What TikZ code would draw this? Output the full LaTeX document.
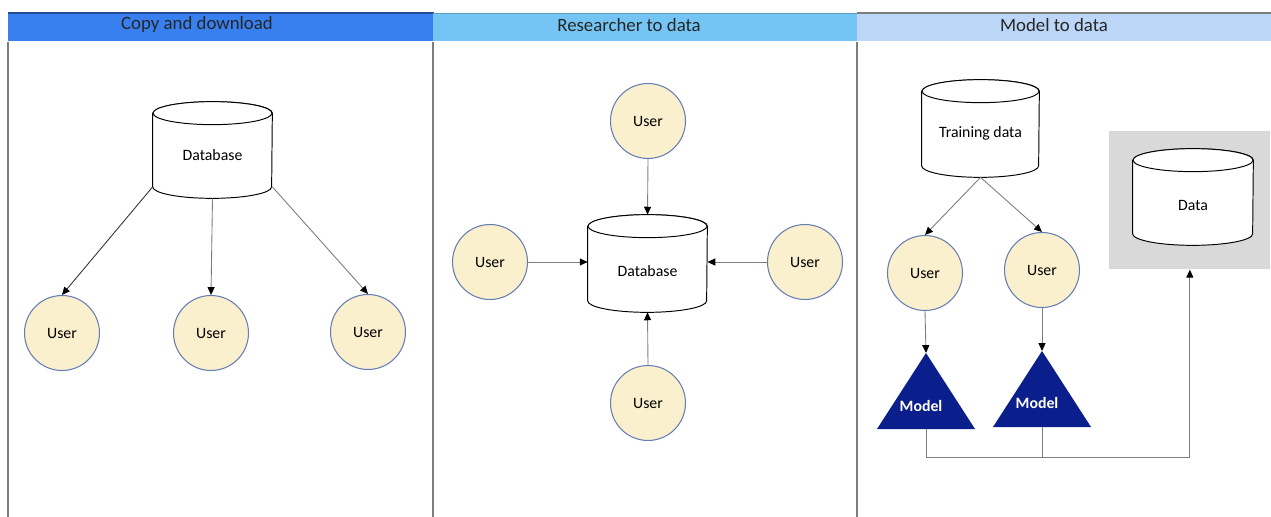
\documentclass[tikz,border=0pt]{standalone}
\usepackage{fontspec}
\setmainfont{Carlito}
\usetikzlibrary{arrows.meta}
\definecolor{hdrA}{RGB}{56,128,240}
\definecolor{hdrB}{RGB}{116,196,244}
\definecolor{hdrC}{RGB}{188,214,248}
\definecolor{userfill}{RGB}{251,240,205}
\definecolor{userline}{RGB}{100,125,180}
\definecolor{navy}{RGB}{10,30,140}
\definecolor{boxgray}{RGB}{217,217,217}
\definecolor{lineg}{RGB}{125,125,125}
\tikzset{
  user/.style={circle, draw=userline, fill=userfill, minimum size=1.5cm, inner sep=0pt,
    font=\fontsize{9}{10}\selectfont, line width=0.6pt},
  cylbody/.style={draw=black, fill=white, line width=0.55pt},
  lbl/.style={font=\fontsize{9}{10}\selectfont, inner sep=0pt},
  hdrtxt/.style={font=\fontsize{10.7}{12}\selectfont, text=black!85, inner sep=0pt},
  conn/.style={draw=lineg, line width=0.5pt, -{Triangle[length=4.5pt,width=4pt,black]}},
  plainline/.style={draw=lineg, line width=0.5pt},
  frame/.style={draw=lineg, line width=0.6pt},
  modeltxt/.style={font=\bfseries\fontsize{9}{10}\selectfont, text=white, inner sep=0pt},
  hdrbar/.style={anchor=north west, minimum height=0.56cm, inner sep=0pt}
}
% #1 name, #2 cx, #3 cy, #4 width (cm), #5 height (cm), #6 label y, #7 text
\newcommand{\Cyl}[7]{%
  \node[minimum width=#4cm, minimum height=#5cm, inner sep=0pt] (#1) at (#2,#3) {};
  \draw[cylbody] ([yshift=-0.23cm]#1.north west) -- ([yshift=0.23cm]#1.south west)
     arc[start angle=180,end angle=360,x radius=#4cm/2,y radius=0.23cm]
     -- ([yshift=-0.23cm]#1.north east)
     arc[start angle=0,end angle=180,x radius=#4cm/2,y radius=0.23cm] -- cycle;
  \draw[cylbody] ([yshift=-0.23cm]#1.north) ellipse[x radius=#4cm/2, y radius=0.23cm];
  \node[lbl] (#1-t) at (#2,#6) {#7};
}
\begin{document}
\begin{tikzpicture}[x=0.02cm,y=-0.02cm]
\useasboundingbox (0,0) rectangle (1271,517);
% headers
\node[hdrbar, fill=hdrA, minimum width=8.5cm] (h1) at (8,13) {};
\node[hdrbar, fill=hdrB, minimum width=8.48cm] (h2) at (433,13) {};
\node[hdrbar, fill=hdrC, minimum width=8.28cm] (h3) at (857,13) {};
\draw[draw=hdrA!60!black, line width=0.6pt] (h1.north west) -- (h1.north east);
\draw[draw=hdrB!80!black, line width=0.4pt] (h2.north west) -- (h2.north east);
\draw[draw=lineg, line width=0.6pt] (h3.north west) -- (h3.north east);
\node[hdrtxt] (h1t) at (197,24) {Copy and download};
\node[hdrtxt] (h2t) at (629,25) {Researcher to data};
\node[hdrtxt] (h3t) at (1054,25) {Model to data};
% frame lines
\draw[frame] (h1.south west) -- (8,517);
\draw[frame] (h2.south west) -- (433,517);
\draw[frame] (h3.south west) -- (857,517);

% Panel 1
\Cyl{db1}{212.5}{150}{2.38}{1.92}{155}{Database}
\node[user] (u1a) at (62,333) {User};
\node[user] (u1b) at (211,333) {User};
\node[user] (u1c) at (368,332) {User};
\draw[conn, draw=black!80] ([yshift=0.23cm]db1.south west) -- (u1a.north);
\draw[conn] (db1.south) -- (u1b.north);
\draw[conn] ([yshift=0.23cm]db1.south east) -- (u1c.north);

% Panel 2
\Cyl{db2}{647.5}{263.5}{2.38}{1.94}{271}{Database}
\node[user] (u2t) at (648,121) {User};
\node[user] (u2l) at (490,262) {User};
\node[user] (u2r) at (805,262) {User};
\node[user] (u2b) at (648,403) {User};
\draw[conn] (u2t.south) -- (db2.north);
\draw[conn] (u2l.east) -- (db2.west |- u2l.east);
\draw[conn] (u2r.west) -- (db2.east |- u2r.west);
\draw[conn] (u2b.north) -- (db2.south);

% Panel 3
\Cyl{td}{980.5}{128.5}{2.34}{1.94}{133}{Training data}
\node[fill=boxgray, minimum width=3.22cm, minimum height=2.76cm, inner sep=0pt, anchor=north west] (dbox) at (1109,131) {};
\Cyl{dd}{1193}{197}{2.4}{1.92}{205}{Data}
\node[user] (u3a) at (925,273) {User};
\node[user] (u3b) at (1042,270) {User};
\draw[conn] (td.south) -- (u3a.north);
\draw[conn] (td.south) -- (u3b.north);
% models
\coordinate (t1a) at (926,353);
\coordinate (t1b) at (926,429);
\coordinate (t2a) at (1042,351);
\coordinate (t2b) at (1042,427);
\fill[navy] (t1a) -- (975,429) -- (877,429) -- cycle;
\fill[navy] (t2a) -- (1091,427) -- (993,427) -- cycle;
\node[modeltxt] (m1) at (921,406) {Model};
\node[modeltxt] (m2) at (1037,403) {Model};
\draw[conn] (u3a.south) -- (t1a);
\draw[conn] (u3b.south) -- (t2a);
\coordinate (jy) at (1000,457);
\draw[conn] (t1b) -- (t1b |- jy) -- (dbox.south |- jy) -- (dbox.south);
\draw[plainline] (t2b) -- (t2b |- jy);
\end{tikzpicture}
\end{document}
